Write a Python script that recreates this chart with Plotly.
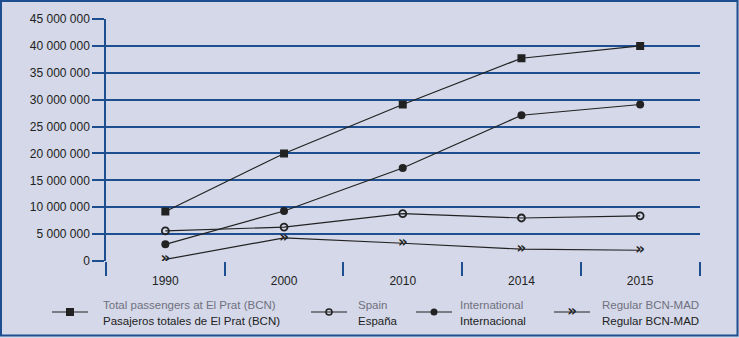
import plotly.graph_objects as go

years = ["1990", "2000", "2010", "2014", "2015"]
total = [9200000, 20000000, 29100000, 37700000, 40000000]
spain = [5600000, 6300000, 8800000, 8000000, 8400000]
international = [3100000, 9300000, 17300000, 27100000, 29100000]
bcn_mad = [300000, 4300000, 3300000, 2200000, 2000000]

legend_en = ["Total passengers at El Prat (BCN)", "Spain", "International", "Regular BCN-MAD"]
legend_es = ["Pasajeros totales de El Prat (BCN)", "España", "Internacional", "Regular BCN-MAD"]
y_ticks = [0, 5000000, 10000000, 15000000, 20000000, 25000000, 30000000, 35000000, 40000000, 45000000]

W, H = 739, 338
ML, MR, MT, MB = 30, 30, 19, 2
PW = W - ML - MR
PH = H - MT - MB
BG = "#D4D8E8"
BLUE = "#1D4E8F"
INK = "#222222"
FONT = "Liberation Sans"

def px_x(px):
    return (px - ML) / PW

def px_y(py):
    return (H - MB - py) / PH

fig = go.Figure()

line_style = dict(color=INK, width=1.2)
chev_font = dict(family="DejaVu Sans", size=15, color=INK, weight="bold")
fig.add_trace(go.Scatter(x=years, y=total, mode="lines+markers", line=line_style,
                         marker=dict(symbol="square", size=8, color=INK), showlegend=False))
fig.add_trace(go.Scatter(x=years, y=spain, mode="lines+markers", line=line_style,
                         marker=dict(symbol="circle-open", size=7, color=INK, line=dict(width=1.8)), showlegend=False))
fig.add_trace(go.Scatter(x=years, y=international, mode="lines+markers", line=line_style,
                         marker=dict(symbol="circle", size=8, color=INK), showlegend=False))
fig.add_trace(go.Scatter(x=years, y=bcn_mad, mode="lines+text", line=line_style,
                         text=["»"] * len(years), textposition="middle center",
                         textfont=chev_font, showlegend=False))

# custom legend on an auxiliary axis (pixel-like coordinates)
leg_y = 312
leg_items = [
    (52, 88, 70, 101, dict(symbol="square", size=8, color=INK), None),
    (311, 347, 329, 356, dict(symbol="circle-open", size=6, color=INK, line=dict(width=1.6)), None),
    (416, 452, 434, 458, dict(symbol="circle", size=7, color=INK), None),
    (554, 590, 572, 600, None, "»"),
]
for i, (x0, x1, xm, xt, mk, txt) in enumerate(leg_items):
    fig.add_trace(go.Scatter(x=[x0, x1], y=[leg_y, leg_y], mode="lines", line=line_style,
                             xaxis="x2", yaxis="y2", showlegend=False, hoverinfo="skip"))
    if mk is not None:
        fig.add_trace(go.Scatter(x=[xm], y=[leg_y], mode="markers", marker=mk,
                                 xaxis="x2", yaxis="y2", showlegend=False, hoverinfo="skip"))
    else:
        fig.add_trace(go.Scatter(x=[xm], y=[leg_y], mode="text", text=[txt], textposition="middle center",
                                 textfont=chev_font,
                                 xaxis="x2", yaxis="y2", showlegend=False, hoverinfo="skip"))
    fig.add_annotation(x=px_x(xt), y=px_y(305), xref="paper", yref="paper", xanchor="left", yanchor="middle",
                       text=legend_en[i], showarrow=False, font=dict(family=FONT, size=11.5, color="#707080"))
    fig.add_annotation(x=px_x(xt), y=px_y(321), xref="paper", yref="paper", xanchor="left", yanchor="middle",
                       text=legend_es[i], showarrow=False, font=dict(family=FONT, size=11.5, color=INK))

# frame
fig.add_shape(type="rect", xref="paper", yref="paper",
              x0=px_x(1), x1=px_x(737.5), y0=px_y(335.5), y1=px_y(1),
              line=dict(color=BLUE, width=2), fillcolor="rgba(0,0,0,0)", layer="above")

fig.update_layout(
    template="none",
    width=W, height=H,
    margin=dict(l=ML, r=MR, t=MT, b=MB, autoexpand=False),
    paper_bgcolor=BG, plot_bgcolor=BG,
    separators=". ",
    font=dict(family=FONT, size=12, color=INK),
    showlegend=False,
    xaxis=dict(domain=[px_x(106), px_x(699.5)], type="category", range=[-0.5, 4.5],
               tickson="boundaries", ticks="outside", ticklen=14, tickwidth=1.5, tickcolor=BLUE,
               ticklabelstandoff=11, automargin=False,
               showgrid=False, showline=False, zeroline=False,
               tickfont=dict(family=FONT, size=12, color=INK), anchor="y"),
    yaxis=dict(domain=[px_y(261), 1], range=[0, 45000000], tickvals=y_ticks, tickformat=",d",
               ticks="outside", ticklen=12, tickwidth=1.5, tickcolor=BLUE, automargin=False,
               showgrid=True, gridcolor=BLUE, gridwidth=1.5,
               showline=True, linecolor=BLUE, linewidth=1.5, zeroline=False,
               tickfont=dict(family=FONT, size=12, color=INK), anchor="x"),
    xaxis2=dict(domain=[0, 1], range=[ML, W - MR], visible=False, anchor="y2", automargin=False),
    yaxis2=dict(domain=[0, px_y(272)], range=[H - MB, 272], visible=False, anchor="x2", automargin=False),
)

fig.write_html("out.html", config={"displayModeBar": False},
               post_script="document.body.style.margin='0';document.body.style.background='%s';" % BG)
